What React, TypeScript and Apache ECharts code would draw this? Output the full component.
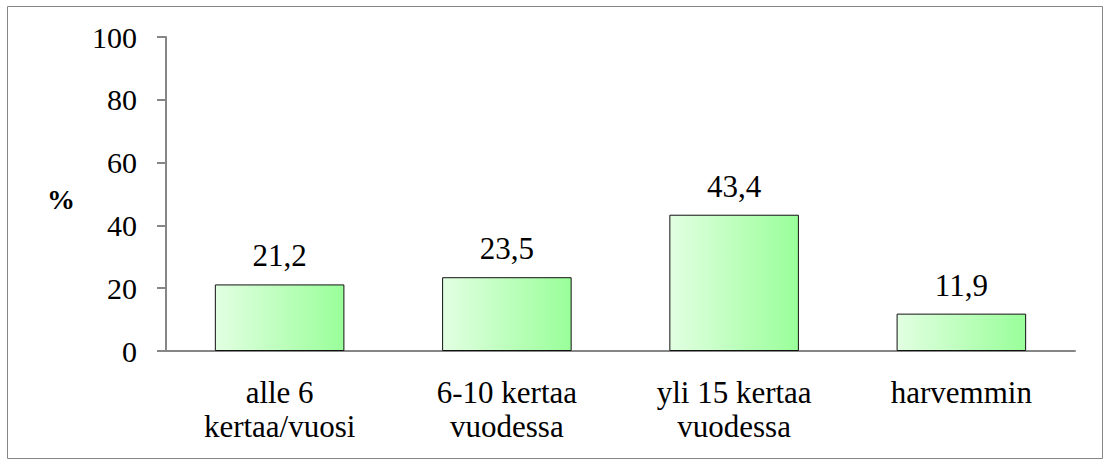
import React, { useEffect, useRef } from "react";
import * as echarts from "echarts";

const categories = ["alle 6\nkertaa/vuosi", "6-10 kertaa\nvuodessa", "yli 15 kertaa\nvuodessa", "harvemmin"];
const values = [21.2, 23.5, 43.4, 11.9];
const yTicks = { min: 0, max: 100, interval: 20 };
const yAxisTitle = "%";

const FONT = "Liberation Serif";

export default function App() {
  const ref = useRef<HTMLDivElement>(null);
  useEffect(() => {
    if (!ref.current) return;
    const chart = echarts.init(ref.current, null, { renderer: "svg" });
    chart.setOption({
      animation: false,
      backgroundColor: "#ffffff",
      textStyle: { fontFamily: FONT },
      grid: { left: 166, right: 30, top: 37, bottom: 108, containLabel: false },
      graphic: [
        {
          type: "rect",
          shape: { x: 7.5, y: 6.5, width: 1095, height: 452 },
          style: { fill: "none", stroke: "#868686", lineWidth: 1 },
          silent: true,
        },
        {
          type: "text",
          x: 47,
          y: 199,
          style: {
            text: yAxisTitle,
            fontFamily: FONT,
            fontWeight: "bold",
            fontSize: 28,
            fill: "#000",
            verticalAlign: "middle",
          },
        },
      ],
      xAxis: {
        type: "category",
        data: categories,
        axisLine: { lineStyle: { color: "#868686", width: 2 } },
        axisTick: { show: false },
        axisLabel: {
          color: "#000",
          fontFamily: FONT,
          fontSize: 31,
          lineHeight: 34,
          margin: 24,
          interval: 0,
        },
      },
      yAxis: {
        type: "value",
        min: yTicks.min,
        max: yTicks.max,
        interval: yTicks.interval,
        splitLine: { show: false },
        axisLine: { show: true, lineStyle: { color: "#868686", width: 2 } },
        axisTick: { show: true, length: 9, lineStyle: { color: "#868686", width: 2 } },
        axisLabel: {
          color: "#000",
          fontFamily: FONT,
          fontSize: 30,
          margin: 29,
        },
      },
      series: [
        {
          type: "bar",
          data: values,
          barWidth: "57%",
          itemStyle: {
            color: new echarts.graphic.LinearGradient(0, 0, 1, 0, [
              { offset: 0, color: "#e2ffe2" },
              { offset: 1, color: "#99ff99" },
            ]),
            borderColor: "#111111",
            borderWidth: 1,
          },
          label: {
            show: true,
            position: "top",
            distance: 13,
            color: "#000",
            fontFamily: FONT,
            fontSize: 31,
            formatter: (p: any) => String(p.value).replace(".", ","),
          },
        },
      ],
    });
    return () => chart.dispose();
  }, []);
  return (
    <div
      ref={ref}
      style={{ position: "fixed", left: 0, top: 0, width: 1105, height: 459 }}
    />
  );
}
